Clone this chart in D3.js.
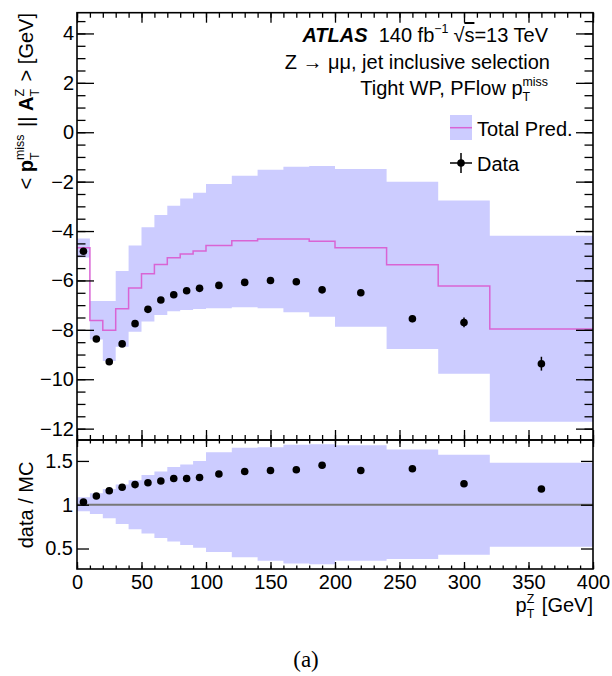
<!DOCTYPE html>
<html>
<head>
<meta charset="utf-8">
<script src="https://cdn.jsdelivr.net/npm/d3@7"></script>
<style>
  body { margin: 0; background: #fff; }
  svg { font-family: "Liberation Sans", Arial, sans-serif; }
  svg text { white-space: pre; }
</style>
</head>
<body>
<div id="chart"></div>
<script>
// bin edges of pT^Z [GeV]
const binEdges = [0, 10, 20, 30, 40, 50, 60, 70, 80, 90, 100, 120, 140, 160, 180, 200, 240, 280, 320, 400];
// data points (bin centres)
const dataX = [5, 15, 25, 35, 45, 55, 65, 75, 85, 95, 110, 130, 150, 170, 190, 220, 260, 300, 360];
const dataY = [-4.82, -8.37, -9.29, -8.57, -7.75, -7.17, -6.79, -6.58, -6.42, -6.32, -6.20, -6.08, -6.00, -6.05, -6.38, -6.50, -7.55, -7.70, -9.37];
const dataErr = [0.05, 0.05, 0.06, 0.06, 0.06, 0.06, 0.06, 0.06, 0.07, 0.07, 0.07, 0.08, 0.09, 0.10, 0.11, 0.11, 0.14, 0.20, 0.28];
// total prediction and its uncertainty band
const predY = [-4.68, -7.62, -8.02, -7.15, -6.31, -5.73, -5.35, -5.08, -4.93, -4.81, -4.59, -4.39, -4.32, -4.32, -4.41, -4.68, -5.36, -6.23, -7.97];
const predUp = [-4.30, -6.83, -6.83, -5.62, -4.59, -3.85, -3.35, -2.98, -2.68, -2.45, -2.10, -1.76, -1.52, -1.40, -1.37, -1.49, -2.00, -2.76, -4.19];
const predLo = [-5.07, -8.39, -9.26, -8.68, -8.08, -7.66, -7.40, -7.25, -7.20, -7.16, -7.13, -7.09, -7.13, -7.29, -7.47, -7.87, -8.78, -9.78, -11.72];
// ratio panel
const ratioY = [1.03, 1.10, 1.16, 1.20, 1.23, 1.25, 1.27, 1.30, 1.30, 1.31, 1.35, 1.38, 1.39, 1.40, 1.45, 1.39, 1.41, 1.24, 1.18];
const ratioUp = [1.085, 1.13, 1.18, 1.23, 1.28, 1.34, 1.38, 1.43, 1.46, 1.50, 1.60, 1.65, 1.655, 1.685, 1.69, 1.68, 1.63, 1.57, 1.48];
const ratioLo = [0.925, 0.894, 0.845, 0.78, 0.72, 0.67, 0.62, 0.58, 0.54, 0.51, 0.46, 0.40, 0.36, 0.33, 0.32, 0.36, 0.38, 0.43, 0.52];
// ticks
const xMajor = [0, 50, 100, 150, 200, 250, 300, 350, 400];
const yMainMajor = [-12, -10, -8, -6, -4, -2, 0, 2, 4];
const yRatioMajor = [0.5, 1, 1.5];

const W = 612, H = 676;
const left = 77, right = 593;
const mainTop = 12.7, mainBot = 440, ratBot = 569;
const bandColor = '#ccccff', predColor = '#d964d4';

const svg = d3.select('#chart').append('svg')
  .attr('width', W).attr('height', H);

const x = d3.scaleLinear().domain([0, 400]).range([left, right]);
const y = d3.scaleLinear().domain([-12.46, 4.84]).range([mainBot, mainTop]);
const yr = d3.scaleLinear().domain([0.266, 1.739]).range([ratBot, mainBot]);

const bins = d3.range(binEdges.length - 1).map(i => ({
  x0: binEdges[i], x1: binEdges[i + 1], pred: predY[i], up: predUp[i], lo: predLo[i],
  rup: ratioUp[i], rlo: ratioLo[i]
}));
const pts = dataX.map((d, i) => ({ x: d, y: dataY[i], e: dataErr[i], r: ratioY[i] }));

// step points: each bin contributes its two edges
const steps = [];
bins.forEach(d => { steps.push({ x: d.x0, b: d }); steps.push({ x: d.x1, b: d }); });

// ---- main panel ----
svg.append('path')
  .attr('d', d3.area().x(d => x(d.x)).y0(d => y(d.b.lo)).y1(d => y(d.b.up))(steps))
  .attr('fill', bandColor);

svg.append('path')
  .attr('d', d3.line().x(d => x(d.x)).y(d => y(d.b.pred))(steps))
  .attr('fill', 'none').attr('stroke', predColor).attr('stroke-width', 1.5);

svg.append('g').selectAll('line').data(pts).enter().append('line')
  .attr('x1', d => x(d.x)).attr('x2', d => x(d.x))
  .attr('y1', d => y(d.y + d.e)).attr('y2', d => y(d.y - d.e))
  .attr('stroke', '#000').attr('stroke-width', 1.5);
svg.append('g').selectAll('circle').data(pts).enter().append('circle')
  .attr('cx', d => x(d.x)).attr('cy', d => y(d.y)).attr('r', 3.8).attr('fill', '#000');

// ---- ratio panel ----
svg.append('path')
  .attr('d', d3.area().x(d => x(d.x)).y0(d => yr(d.b.rlo)).y1(d => yr(d.b.rup))(steps))
  .attr('fill', bandColor);
svg.append('line')
  .attr('x1', x(0)).attr('x2', x(400)).attr('y1', yr(1)).attr('y2', yr(1))
  .attr('stroke', '#777').attr('stroke-width', 2);
svg.append('g').selectAll('circle').data(pts).enter().append('circle')
  .attr('cx', d => x(d.x)).attr('cy', d => yr(d.r)).attr('r', 3.8).attr('fill', '#000');

// ---- axes ----
const fs = 20;
function axisStyle(g) {
  g.select('.domain').remove();
  g.selectAll('line').attr('stroke', '#000').attr('stroke-width', 1.3);
  g.selectAll('text').attr('font-size', fs).attr('font-family', '"Liberation Sans", Arial, sans-serif').attr('fill', '#000');
}
const xMinor = d3.range(0, 401, 10);
// main panel x ticks (top and bottom, pointing inward)
svg.append('g').attr('transform', `translate(0,${mainTop})`)
  .call(d3.axisTop(x).tickValues(xMinor).tickSize(-5).tickFormat('')).call(axisStyle);
svg.append('g').attr('transform', `translate(0,${mainTop})`)
  .call(d3.axisTop(x).tickValues(xMajor).tickSize(-10).tickFormat('')).call(axisStyle);
svg.append('g').attr('transform', `translate(0,${mainBot})`)
  .call(d3.axisBottom(x).tickValues(xMinor).tickSize(-5).tickFormat('')).call(axisStyle);
svg.append('g').attr('transform', `translate(0,${mainBot})`)
  .call(d3.axisBottom(x).tickValues(xMajor).tickSize(-10).tickFormat('')).call(axisStyle);
// ratio x ticks
svg.append('g').attr('transform', `translate(0,${mainBot})`)
  .call(d3.axisTop(x).tickValues(xMinor).tickSize(-3.5).tickFormat('')).call(axisStyle);
svg.append('g').attr('transform', `translate(0,${mainBot})`)
  .call(d3.axisTop(x).tickValues(xMajor).tickSize(-7).tickFormat('')).call(axisStyle);
svg.append('g').attr('transform', `translate(0,${ratBot})`)
  .call(d3.axisBottom(x).tickValues(xMinor).tickSize(-3.5).tickFormat('')).call(axisStyle);
svg.append('g').attr('transform', `translate(0,${ratBot})`)
  .call(d3.axisBottom(x).tickValues(xMajor).tickSize(-7).tickPadding(6).tickFormat(d3.format('d'))).call(axisStyle);

// main y ticks
const yMinor = d3.range(-12, 4.6, 0.5);
svg.append('g').attr('transform', `translate(${left},0)`)
  .call(d3.axisLeft(y).tickValues(yMinor).tickSize(-8.5).tickFormat('')).call(axisStyle);
svg.append('g').attr('transform', `translate(${left},0)`)
  .call(d3.axisLeft(y).tickValues(yMainMajor).tickSize(-17).tickPadding(3)).call(axisStyle);
svg.append('g').attr('transform', `translate(${right},0)`)
  .call(d3.axisRight(y).tickValues(yMinor).tickSize(-8.5).tickFormat('')).call(axisStyle);
svg.append('g').attr('transform', `translate(${right},0)`)
  .call(d3.axisRight(y).tickValues(yMainMajor).tickSize(-17).tickFormat('')).call(axisStyle);
// ratio y ticks
svg.append('g').attr('transform', `translate(${left},0)`)
  .call(d3.axisLeft(yr).tickValues(yRatioMajor).tickSize(-12).tickPadding(4).tickFormat(d3.format('~g'))).call(axisStyle);
svg.append('g').attr('transform', `translate(${right},0)`)
  .call(d3.axisRight(yr).tickValues(yRatioMajor).tickSize(-12).tickFormat('')).call(axisStyle);

// frames
svg.append('rect').attr('x', left).attr('y', mainTop).attr('width', right - left).attr('height', mainBot - mainTop)
  .attr('fill', 'none').attr('stroke', '#000').attr('stroke-width', 1.6);
svg.append('rect').attr('x', left).attr('y', mainBot).attr('width', right - left).attr('height', ratBot - mainBot)
  .attr('fill', 'none').attr('stroke', '#000').attr('stroke-width', 1.6);

// ---- rich text helper: parts laid out left to right, sup/sub stacked ----
function richText(parent, parts, size, anchor) {
  const g = parent.append('g');
  let cx = 0;
  parts.forEach(p => {
    if (p.sup !== undefined || p.sub !== undefined) {
      let w = 0;
      if (p.sup) {
        const t = g.append('text').attr('x', cx).attr('y', -size * 0.45).attr('font-size', size * 0.62).text(p.sup);
        w = Math.max(w, t.node().getComputedTextLength());
      }
      if (p.sub) {
        const t = g.append('text').attr('x', cx).attr('y', size * 0.3).attr('font-size', size * 0.62).text(p.sub);
        w = Math.max(w, t.node().getComputedTextLength());
      }
      cx += w + (p.gap || 0);
    } else {
      const t = g.append('text').attr('x', cx).attr('y', 0).attr('font-size', size)
        .attr('font-weight', p.bold ? 'bold' : null).attr('font-style', p.italic ? 'italic' : null)
        .attr('text-decoration', p.over ? 'overline' : null)
        .text(p.t);
      cx += t.node().getComputedTextLength();
    }
  });
  const shift = anchor === 'end' ? -cx : anchor === 'middle' ? -cx / 2 : 0;
  g.selectAll('text').attr('x', function () { return +d3.select(this).attr('x') + shift; });
  return g;
}

// y title main
richText(svg.append('g').attr('transform', `translate(33,13) rotate(-90)`), [
  { t: '< ' }, { t: 'p', bold: true }, { sup: 'miss', sub: 'T', gap: 2 }, { t: ' || ' }, { t: 'A', bold: true },
  { sup: 'Z', sub: 'T', gap: 2 }, { t: ' > [GeV]' }
], 20, 'end');
// y title ratio
svg.append('text').attr('transform', `translate(33,505) rotate(-90)`)
  .attr('text-anchor', 'middle').attr('font-size', 20).text('data / MC');
// x title
richText(svg.append('g').attr('transform', `translate(${right},612)`), [
  { t: 'p' }, { sup: 'Z', sub: 'T', gap: 2 }, { t: ' [GeV]' }
], 20, 'end');

// labels
richText(svg.append('g').attr('transform', 'translate(548,42)'), [
  { t: 'ATLAS', bold: true, italic: true }, { t: '  140 fb' }, { sup: '\u22121', gap: 5 },
  { t: '\u221A' }, { t: 's', over: true }, { t: '=13 TeV' }
], 20, 'end');
richText(svg.append('g').attr('transform', 'translate(550,69)'), [
  { t: 'Z \u2192 \u03bc\u03bc, jet inclusive selection' }
], 20, 'end');
richText(svg.append('g').attr('transform', 'translate(548,95)'), [
  { t: 'Tight WP, PFlow p' }, { sup: 'miss', sub: 'T' }
], 20, 'end');

// legend
svg.append('rect').attr('x', 450).attr('y', 115).attr('width', 22).attr('height', 25).attr('fill', bandColor);
svg.append('line').attr('x1', 450).attr('x2', 472).attr('y1', 127.7).attr('y2', 127.7)
  .attr('stroke', predColor).attr('stroke-width', 1.5);
svg.append('text').attr('x', 477).attr('y', 136).attr('font-size', 20).text('Total Pred.');
svg.append('line').attr('x1', 450).attr('x2', 472).attr('y1', 163).attr('y2', 163).attr('stroke', '#000').attr('stroke-width', 1.5);
svg.append('line').attr('x1', 461).attr('x2', 461).attr('y1', 153).attr('y2', 173).attr('stroke', '#000').attr('stroke-width', 1.5);
svg.append('circle').attr('cx', 461).attr('cy', 163).attr('r', 3.8).attr('fill', '#000');
svg.append('text').attr('x', 477).attr('y', 171).attr('font-size', 20).text('Data');

// caption
svg.append('text').attr('x', 306).attr('y', 667).attr('text-anchor', 'middle')
  .attr('font-family', '"Liberation Serif", "Times New Roman", serif').attr('font-size', 23).text('(a)');
</script>
</body>
</html>
